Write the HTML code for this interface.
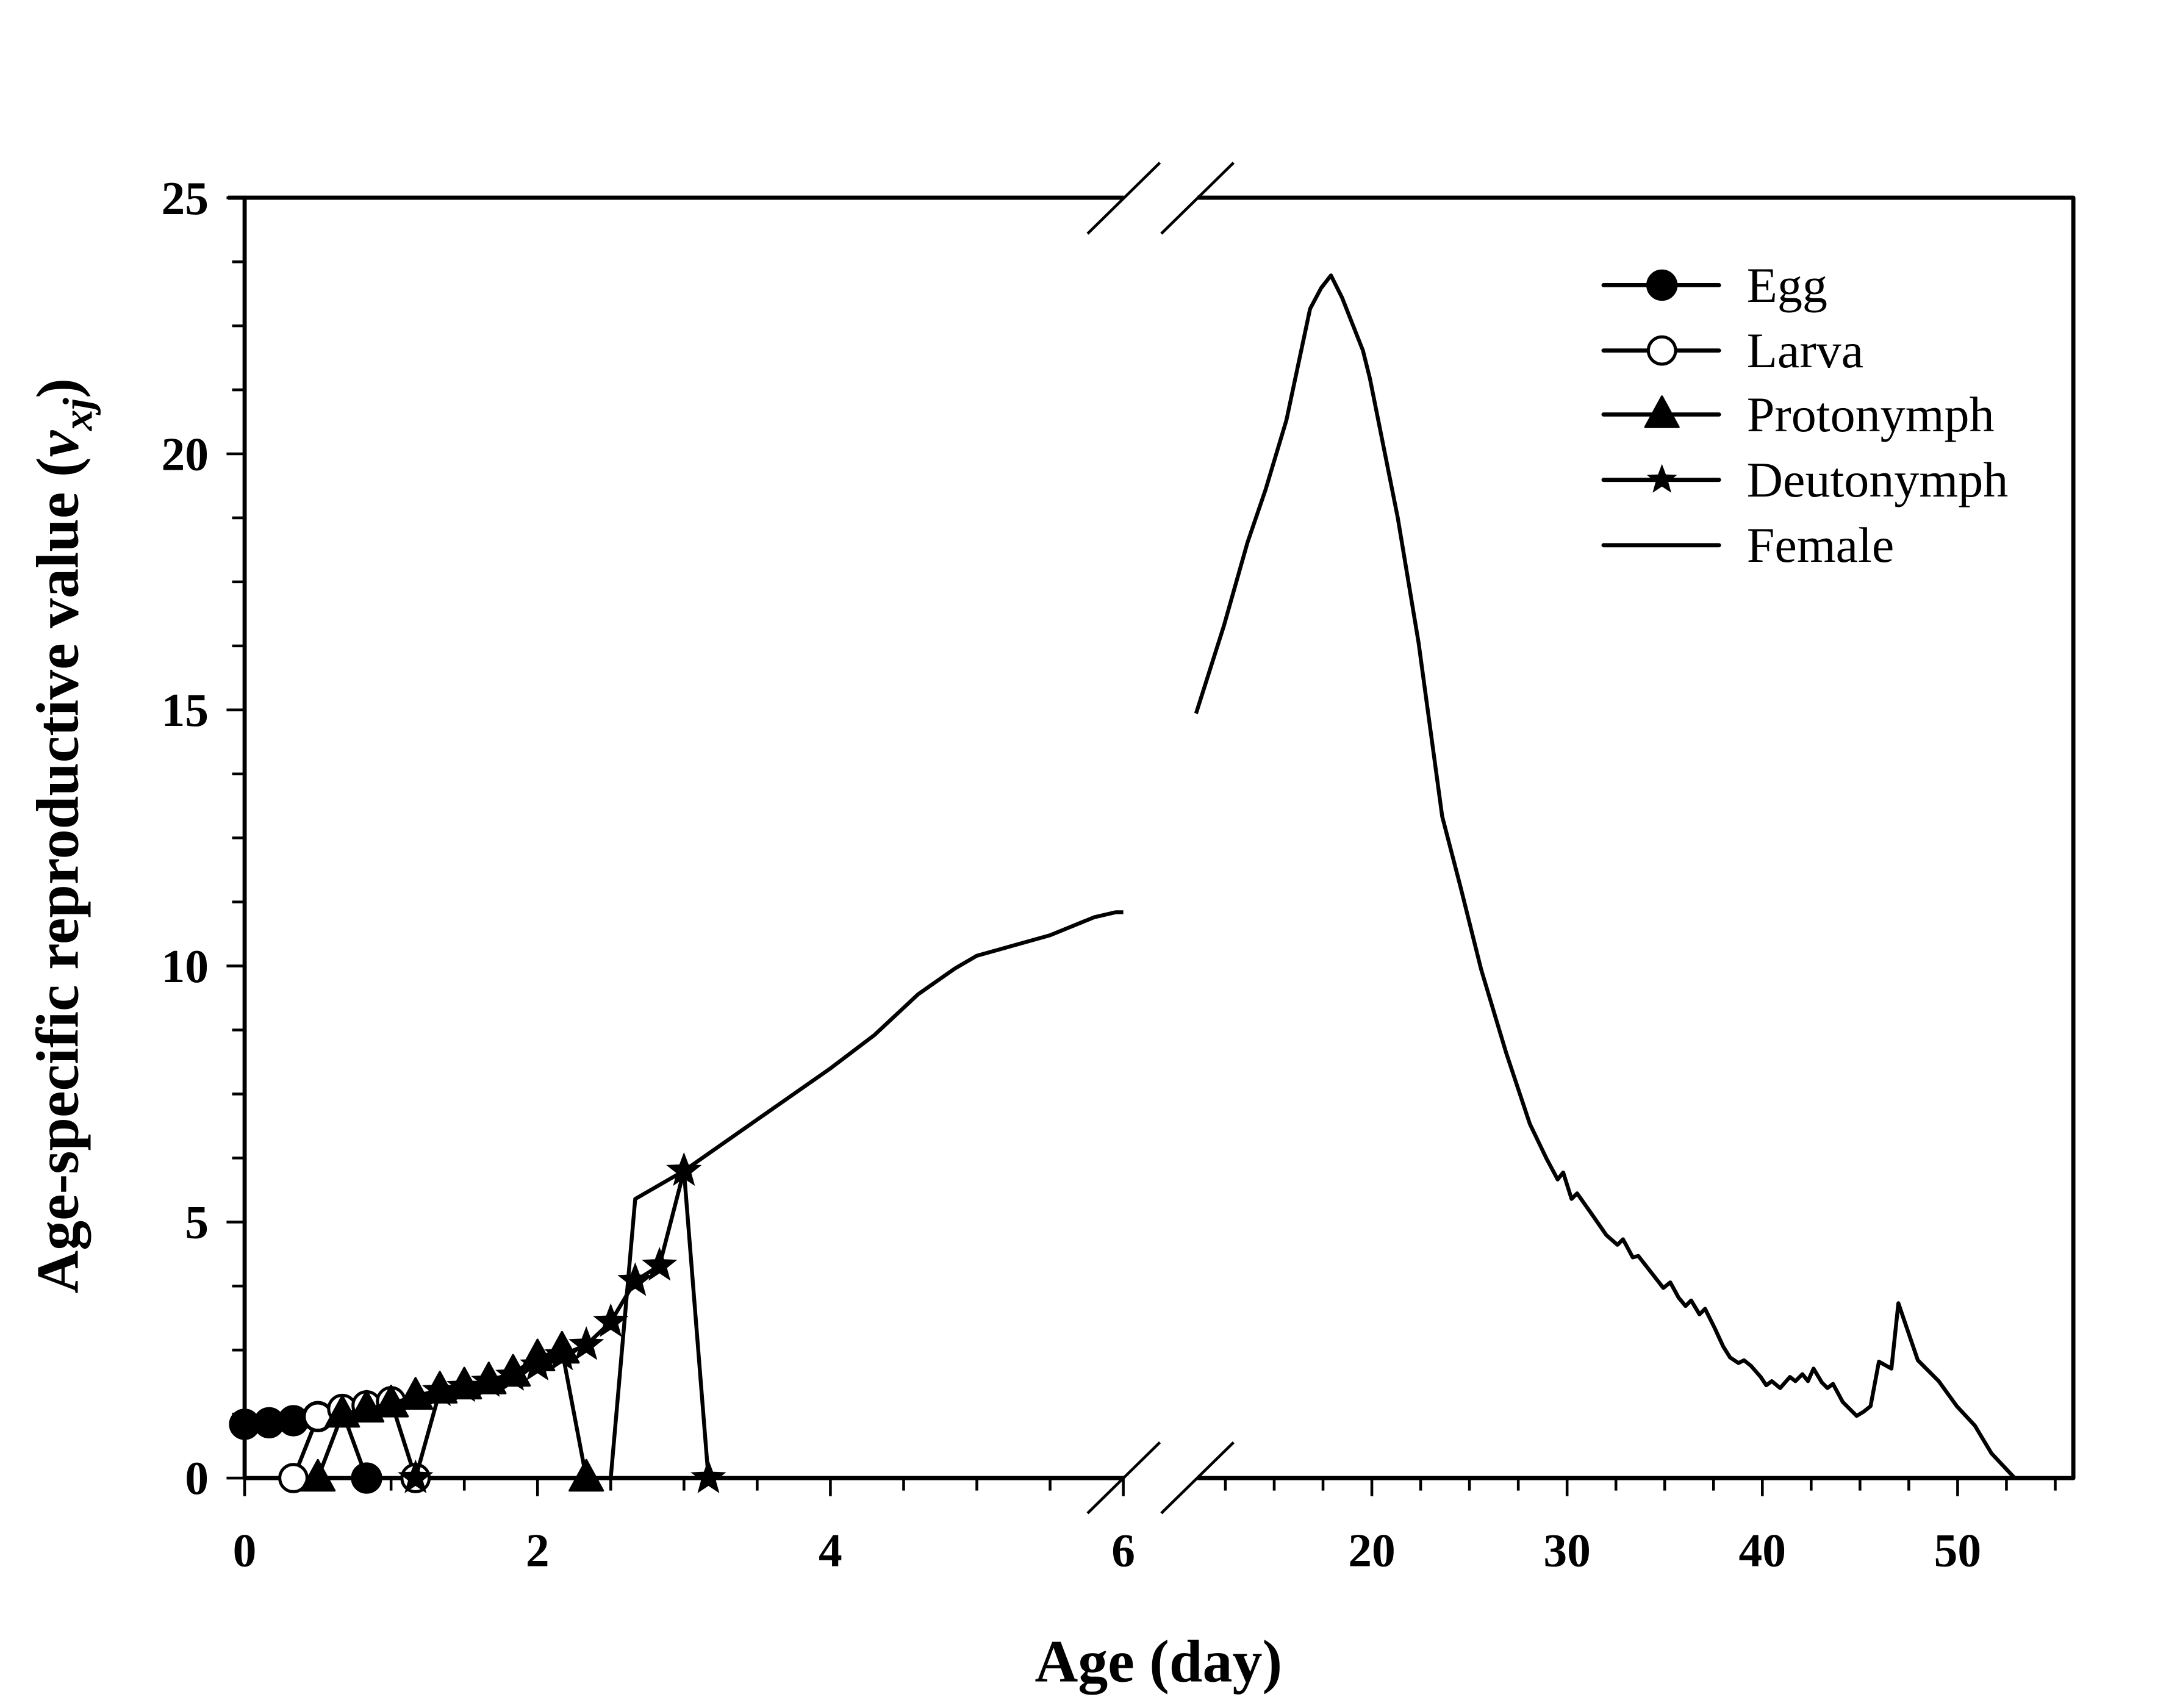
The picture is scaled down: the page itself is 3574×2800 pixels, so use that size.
<!DOCTYPE html>
<html><head><meta charset="utf-8">
<style>
html,body{margin:0;padding:0;background:#fff;}
svg{display:block;}
text{font-family:"Liberation Serif","Times New Roman",serif;fill:#000;}
</style></head>
<body>
<svg id="s" width="3574" height="2800" viewBox="0 0 1567.5 1228" xmlns="http://www.w3.org/2000/svg">
<rect x="0" y="0" width="1567.5" height="1228" fill="#fff"/>
<g id="axes" stroke="#000" stroke-width="3" fill="none" stroke-linecap="round">
  <line x1="175.9" y1="142.1" x2="175.9" y2="1062.7"/>
  <line x1="1490.8" y1="142.1" x2="1490.8" y2="1062.7"/>
  <line x1="175.9" y1="1062.7" x2="808" y2="1062.7" stroke-linecap="butt"/>
  <line x1="861" y1="1062.7" x2="1490.8" y2="1062.7" stroke-linecap="butt"/>
  <line x1="164" y1="142.1" x2="808" y2="142.1" stroke-linecap="butt"/>
  <line x1="861" y1="142.1" x2="1490.8" y2="142.1" stroke-linecap="butt"/>
</g>
<g stroke="#000" stroke-width="2" fill="none">
  <line x1="782" y1="1088" x2="834" y2="1037"/>
  <line x1="835" y1="1088" x2="887" y2="1037"/>
  <line x1="782" y1="168" x2="834" y2="117"/>
  <line x1="835" y1="168" x2="887" y2="117"/>
</g>
<g id="ticks" stroke="#000" stroke-width="2" fill="none"></g>
<g id="series"></g>
<g font-weight="bold" font-size="34" text-anchor="end">
  <text x="150" y="154">25</text>
  <text x="150" y="338">20</text>
  <text x="150" y="522">15</text>
  <text x="150" y="706">10</text>
  <text x="150" y="890">5</text>
  <text x="150" y="1074">0</text>
</g>
<g font-weight="bold" font-size="34" text-anchor="middle">
  <text x="175.9" y="1126">0</text>
  <text x="386.5" y="1126">2</text>
  <text x="597.1" y="1126">4</text>
  <text x="807.7" y="1126">6</text>
  <text x="986.4" y="1126">20</text>
  <text x="1126.8" y="1126">30</text>
  <text x="1267.2" y="1126">40</text>
  <text x="1407.6" y="1126">50</text>
</g>
<text x="833" y="1209" font-weight="bold" font-size="43" text-anchor="middle">Age (day)</text>
<text transform="translate(56,601) rotate(-90)" font-weight="bold" font-size="43" text-anchor="middle">Age-specific reproductive value (<tspan font-style="italic">v</tspan><tspan font-style="italic" font-size="30" dy="10">xj</tspan><tspan dy="-10">)</tspan></text>
<g font-size="36">
  <text x="1256" y="217">Egg</text>
  <text x="1256" y="264">Larva</text>
  <text x="1256" y="310">Protonymph</text>
  <text x="1256" y="357">Deutonymph</text>
  <text x="1256" y="404">Female</text>
</g>
<g id="legend"></g>
<script>
(function(){
var NS="http://www.w3.org/2000/svg";
function el(tag,attrs,parent){var e=document.createElementNS(NS,tag);for(var k in attrs)e.setAttribute(k,attrs[k]);parent.appendChild(e);return e;}
var L=175.9,B=1062.7,UX=105.3,UY=36.82,R20=986.4,URX=14.04;
function X(d){return L+UX*d;}
function Y(v){return B-UY*v;}
function XR(d){return R20+URX*(d-20);}
var tk=document.getElementById('ticks');
for(var i=0;i<=20;i++){var v=i*1.25;var y=Y(v);var maj=(i%4==0);
  el('line',{x1:L,y1:y,x2:L-(maj?13:9),y2:y},tk);}
for(var i=0;i<=12;i++){var d=i*0.5;var x=X(d);var maj=(i%4==0);
  el('line',{x1:x,y1:B,x2:x,y2:B+(maj?13:9)},tk);}
for(var d=12.5;d<=55.01;d+=2.5){var x=XR(d);var maj=(Math.abs(d%10)<0.01);
  el('line',{x1:x,y1:B,x2:x,y2:B+(maj?13:9)},tk);}
var sg=document.getElementById('series');
function poly(pts,parent){var s=pts.map(function(p){return p[0].toFixed(2)+','+p[1].toFixed(2);}).join(' ');
  el('polyline',{points:s,fill:'none',stroke:'#000','stroke-width':2.8,'stroke-linejoin':'round'},parent);}
function star(cx,cy,r,parent){var p=[];for(var i=0;i<10;i++){var a=-Math.PI/2+i*Math.PI/5;var rr=(i%2==0)?r:r*0.42;p.push((cx+rr*Math.cos(a)).toFixed(2)+','+(cy+rr*Math.sin(a)).toFixed(2));}
  el('polygon',{points:p.join(' '),fill:'#000',stroke:'#000','stroke-width':1},parent);}
function marker(type,x,y,parent){
  if(type=='egg')el('circle',{cx:x,cy:y,r:10.5,fill:'#000',stroke:'#000','stroke-width':1.5},parent);
  else if(type=='larva')el('circle',{cx:x,cy:y,r:9.8,fill:'#fff',stroke:'#000','stroke-width':2.2},parent);
  else if(type=='proto')el('polygon',{points:(x)+','+(y-13)+' '+(x+12)+','+(y+9)+' '+(x-12)+','+(y+9),fill:'#000',stroke:'#000','stroke-width':1.5,'stroke-linejoin':'round'},parent);
  else if(type=='deuto')star(x,y,12,parent);
}
var fl=[[2.5,0],[2.667,5.45],[3,6.0],[3.5,7.0],[4,8.0],[4.3,8.65],[4.6,9.45],[4.85,9.95],[5.0,10.2],[5.5,10.6],[5.8,10.95],[5.95,11.05],[6.0,11.05]];
poly(fl.map(function(p){return [X(p[0]),Y(p[1])];}),sg);
var fr=[[860,513],[880,450],[897,390],[910,352],[925,302],[942,222],[950,207],[957,198],[965,214],[980,252],[985,272],[1005,372],[1020,462],[1037,587],[1050,637],[1065,697],[1083,757],[1100,808],[1112,833],[1120,848],[1124,843],[1130,862],[1134,858],[1146,875],[1155,888],[1163,895],[1167,891],[1174,904],[1178,903],[1196,926],[1201,922],[1207,933],[1212,939],[1216,935],[1222,945],[1226,941],[1233,955],[1239,968],[1244,976],[1250,980],[1254,978],[1259,982],[1266,990],[1270,996],[1274,993],[1280,998],[1287,990],[1291,993],[1296,988],[1300,993],[1304,984],[1310,994],[1314,998],[1318,995],[1325,1008],[1335,1018],[1340,1015],[1345,1011],[1351,979],[1360,984],[1365,937],[1379,978],[1394,993],[1407,1011],[1420,1025],[1432,1045],[1448,1062]];
poly(fr,sg);
var data={
 proto:[[0.5,0],[0.667,1.25],[0.833,1.35],[1.0,1.45],[1.167,1.6],[1.333,1.72],[1.5,1.8],[1.667,1.9],[1.833,2.05],[2.0,2.35],[2.167,2.5],[2.333,0]],
 deuto:[[1.167,0],[1.333,1.7],[1.5,1.78],[1.667,1.88],[1.833,2.0],[2.0,2.2],[2.167,2.4],[2.333,2.6],[2.5,3.05],[2.667,3.85],[2.833,4.15],[3.0,6.0],[3.167,0]],
 larva:[[0.333,0],[0.5,1.2],[0.667,1.35],[0.833,1.42],[1.0,1.5],[1.167,0]],
 egg:[[0,1.05],[0.167,1.08],[0.333,1.12],[0.5,1.2],[0.667,1.3],[0.833,0]]
};
var order=['egg','larva','proto','deuto'];
order.forEach(function(k){var g=el('g',{},sg);var pts=data[k].map(function(p){return [X(p[0]),Y(p[1])];});poly(pts,g);pts.forEach(function(p){marker(k,p[0],p[1],g);});});
var lg=document.getElementById('legend');var ys=[205,252,298,345,392];var types=['egg','larva','proto','deuto',null];
ys.forEach(function(y,i){el('line',{x1:1153,y1:y,x2:1236,y2:y,stroke:'#000','stroke-width':3,'stroke-linecap':'round'},lg);
 if(types[i]){if(types[i]=='deuto')star(1195,y,10,lg);else marker(types[i],1195,y,lg);}});
})();
</script>
</svg>
</body></html>
